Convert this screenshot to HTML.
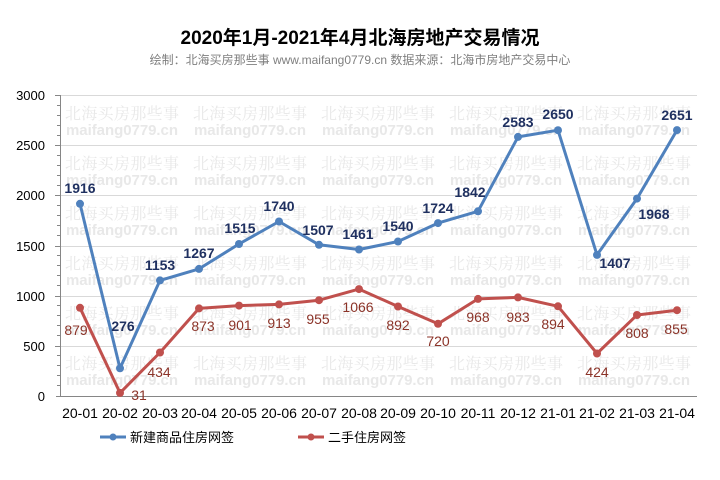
<!DOCTYPE html>
<html><head><meta charset="utf-8"><style>
body{margin:0;background:#fff;}
svg{display:block;font-family:"Liberation Sans","Noto Sans CJK SC",sans-serif;}
.n{font-family:"Liberation Sans Narrow","Liberation Sans",sans-serif;}
</style></head><body>
<svg width="720" height="480" viewBox="0 0 720 480" xmlns="http://www.w3.org/2000/svg">
<rect width="720" height="480" fill="#fff"/>
<text x="360" y="44" text-anchor="middle" font-size="19" font-weight="bold" fill="#000">2020年1月-2021年4月北海房地产交易情况</text>
<text x="360" y="64" text-anchor="middle" font-size="12" fill="#7f7f7f">绘制：北海买房那些事 www.maifang0779.cn 数据来源：北海市房地产交易中心</text>
<g stroke="#d9d9d9" stroke-width="1">
<line x1="60" y1="95.5" x2="697" y2="95.5"/><line x1="60" y1="145.5" x2="697" y2="145.5"/><line x1="60" y1="195.5" x2="697" y2="195.5"/><line x1="60" y1="246.5" x2="697" y2="246.5"/><line x1="60" y1="296.5" x2="697" y2="296.5"/><line x1="60" y1="346.5" x2="697" y2="346.5"/>
</g>
<g fill="#e8e8e8" id="wm">
<g font-family="'Noto Serif CJK SC',serif" font-size="16">
<text x="65" y="119" textLength="114">北海买房那些事</text><text x="193" y="119" textLength="114">北海买房那些事</text><text x="321" y="119" textLength="114">北海买房那些事</text><text x="449" y="119" textLength="114">北海买房那些事</text><text x="577" y="119" textLength="114">北海买房那些事</text>
</g>
<g font-size="15" font-weight="bold">
<text x="66" y="135" textLength="112">maifang0779.cn</text><text x="194" y="135" textLength="112">maifang0779.cn</text><text x="322" y="135" textLength="112">maifang0779.cn</text><text x="450" y="135" textLength="112">maifang0779.cn</text><text x="578" y="135" textLength="112">maifang0779.cn</text>
</g>
</g>
<use href="#wm" y="50"/><use href="#wm" y="100"/><use href="#wm" y="150"/><use href="#wm" y="200"/><use href="#wm" y="250"/>
<g stroke="#868686" stroke-width="1">
<line x1="60.5" y1="95" x2="60.5" y2="396"/><line x1="56" y1="396.5" x2="697" y2="396.5"/>
<line x1="55" y1="95.5" x2="60" y2="95.5"/><line x1="55" y1="145.5" x2="60" y2="145.5"/><line x1="55" y1="195.5" x2="60" y2="195.5"/><line x1="55" y1="246.5" x2="60" y2="246.5"/><line x1="55" y1="296.5" x2="60" y2="296.5"/><line x1="55" y1="346.5" x2="60" y2="346.5"/>
</g>
<g stroke="#868686" stroke-width="1" id="mt">
<line x1="57" y1="105.5" x2="60" y2="105.5"/><line x1="57" y1="115.5" x2="60" y2="115.5"/><line x1="57" y1="125.5" x2="60" y2="125.5"/><line x1="57" y1="135.5" x2="60" y2="135.5"/>
</g>
<use href="#mt" y="50"/><use href="#mt" y="100"/><use href="#mt" y="150"/><use href="#mt" y="200"/><use href="#mt" y="250"/>
<g font-size="13" fill="#000" text-anchor="end" class="n">
<text x="45" y="100">3000</text><text x="45" y="150">2500</text><text x="45" y="200">2000</text><text x="45" y="251">1500</text><text x="45" y="301">1000</text><text x="45" y="351">500</text><text x="45" y="401">0</text>
</g>
<g font-size="14" fill="#000" text-anchor="middle" class="n">
<text x="80" y="418">20-01</text><text x="120" y="418">20-02</text><text x="160" y="418">20-03</text><text x="199" y="418">20-04</text><text x="239" y="418">20-05</text><text x="279" y="418">20-06</text><text x="319" y="418">20-07</text><text x="359" y="418">20-08</text><text x="398" y="418">20-09</text><text x="438" y="418">20-10</text><text x="478" y="418">20-11</text><text x="518" y="418">20-12</text><text x="558" y="418">21-01</text><text x="597" y="418">21-02</text><text x="637" y="418">21-03</text><text x="677" y="418">21-04</text>
</g>
<polyline fill="none" stroke="#4f81bd" stroke-width="3" stroke-linejoin="round" points="80,203.8 120,368.3 160,280.4 199,268.9 239,244.0 279,221.5 319,244.8 359,249.5 398,241.5 438,223.1 478,211.3 518,136.9 558,130.2 597,254.9 637,198.6 677,130.1"/>
<g fill="#4f81bd"><circle cx="80" cy="203.8" r="4"/><circle cx="120" cy="368.3" r="4"/><circle cx="160" cy="280.4" r="4"/><circle cx="199" cy="268.9" r="4"/><circle cx="239" cy="244.0" r="4"/><circle cx="279" cy="221.5" r="4"/><circle cx="319" cy="244.8" r="4"/><circle cx="359" cy="249.5" r="4"/><circle cx="398" cy="241.5" r="4"/><circle cx="438" cy="223.1" r="4"/><circle cx="478" cy="211.3" r="4"/><circle cx="518" cy="136.9" r="4"/><circle cx="558" cy="130.2" r="4"/><circle cx="597" cy="254.9" r="4"/><circle cx="637" cy="198.6" r="4"/><circle cx="677" cy="130.1" r="4"/></g>
<polyline fill="none" stroke="#c0504d" stroke-width="3" stroke-linejoin="round" points="80,307.8 120,392.9 160,352.5 199,308.4 239,305.6 279,304.4 319,300.2 359,289.1 398,306.5 438,323.8 478,298.9 518,297.4 558,306.3 597,353.5 637,315.0 677,310.2"/>
<g fill="#c0504d"><circle cx="80" cy="307.8" r="4"/><circle cx="120" cy="392.9" r="4"/><circle cx="160" cy="352.5" r="4"/><circle cx="199" cy="308.4" r="4"/><circle cx="239" cy="305.6" r="4"/><circle cx="279" cy="304.4" r="4"/><circle cx="319" cy="300.2" r="4"/><circle cx="359" cy="289.1" r="4"/><circle cx="398" cy="306.5" r="4"/><circle cx="438" cy="323.8" r="4"/><circle cx="478" cy="298.9" r="4"/><circle cx="518" cy="297.4" r="4"/><circle cx="558" cy="306.3" r="4"/><circle cx="597" cy="353.5" r="4"/><circle cx="637" cy="315.0" r="4"/><circle cx="677" cy="310.2" r="4"/></g>
<g font-size="14" font-weight="bold" fill="#1f3060" text-anchor="middle" class="n">
<text x="80" y="193">1916</text><text x="123" y="331">276</text><text x="160" y="270">1153</text><text x="199" y="258">1267</text><text x="240" y="233">1515</text><text x="279" y="211">1740</text><text x="318" y="235">1507</text><text x="358" y="239">1461</text><text x="398" y="231">1540</text><text x="438" y="213">1724</text><text x="470" y="197">1842</text><text x="518" y="127">2583</text><text x="558" y="119">2650</text><text x="615" y="268">1407</text><text x="654" y="219">1968</text><text x="677" y="120">2651</text>
</g>
<g font-size="14" fill="#8b3328" text-anchor="middle" class="n">
<text x="76" y="335">879</text><text x="139" y="400">31</text><text x="159" y="377">434</text><text x="203" y="331">873</text><text x="240" y="330">901</text><text x="279" y="328">913</text><text x="318" y="324">955</text><text x="358" y="312">1066</text><text x="398" y="330">892</text><text x="438" y="346">720</text><text x="478" y="322">968</text><text x="518" y="322">983</text><text x="553" y="329">894</text><text x="597" y="377">424</text><text x="637" y="338">808</text><text x="676" y="334">855</text>
</g>
<line x1="100" y1="437" x2="126" y2="437" stroke="#4f81bd" stroke-width="3"/><circle cx="113" cy="437" r="3.5" fill="#4f81bd"/>
<text x="130" y="442" font-size="13" fill="#000">新建商品住房网签</text>
<line x1="298" y1="437" x2="324" y2="437" stroke="#c0504d" stroke-width="3"/><circle cx="311" cy="437" r="3.5" fill="#c0504d"/>
<text x="328" y="442" font-size="13" fill="#000">二手住房网签</text>
</svg>
</body></html>
